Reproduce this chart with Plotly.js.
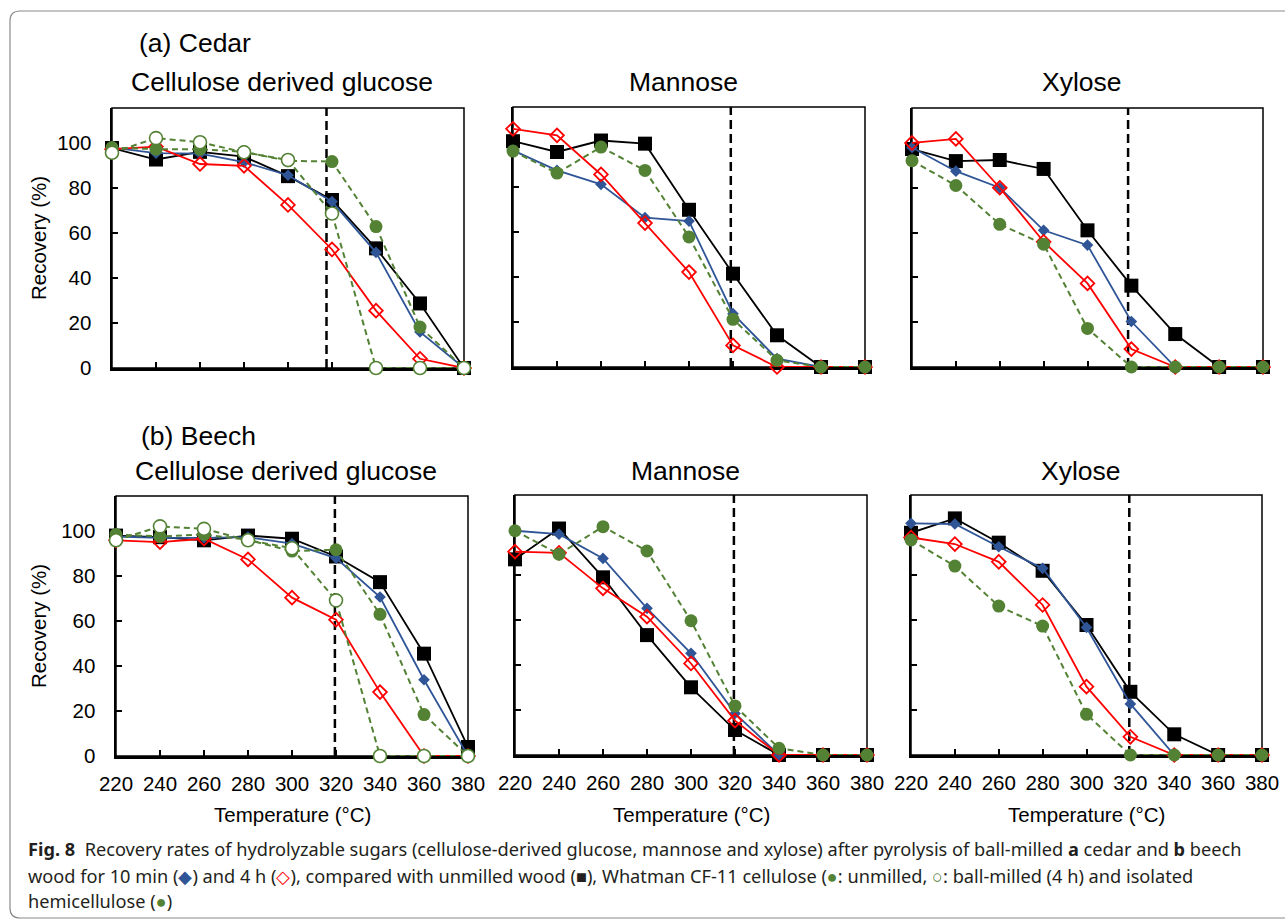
<!DOCTYPE html>
<html>
<head>
<meta charset="utf-8">
<script src="https://cdn.plot.ly/plotly-3.0.1.min.js"></script>
<style>
  html, body { margin: 0; padding: 0; background: #fff; }
  #chart { width: 1285px; height: 921px; }
</style>
</head>
<body>
<div id="chart"></div>
<script>
// ---------------- DATA ----------------
const temps = [220, 240, 260, 280, 300, 320, 340, 360, 380];
const tickTemps = [220, 240, 260, 280, 300, 320, 340, 360, 380];
const yTicks = [0, 20, 40, 60, 80, 100];

const seriesNames = ["Unmilled wood", "Ball-milled 10 min", "Ball-milled 4 h", "Whatman CF-11 (unmilled)", "Whatman CF-11 (ball-milled 4 h)", "Isolated hemicellulose"];

// (a) Cedar — cellulose derived glucose
const cedarGlcWood   = [97.8, 92.7, 96.1, 94.0, 85.3, 74.7, 53.2, 28.7, 0];
const cedarGlc10min  = [98.0, 95.5, 95.3, 91.5, 85.7, 74.0, 51.4, 16.0, 0];
const cedarGlc4h     = [97.3, 98.4, 90.7, 89.9, 72.5, 52.7, 25.5, 4.1, 0];
const cedarGlcCF11   = [98.0, 97.3, 97.3, 96.1, 92.1, 91.8, 62.9, 18.2, 0];
const cedarGlcCF11BM = [95.7, 102.2, 100.4, 95.9, 92.5, 68.7, 0, 0, 0];
// (a) Cedar — mannose
const cedarManWood   = [100.4, 95.6, 100.7, 99.3, 69.9, 41.5, 14.1, 0, 0];
const cedarMan10min  = [96.3, 87.4, 81.2, 66.4, 64.9, 23.7, 3.7, 0, 0];
const cedarMan4h     = [105.9, 103.0, 85.6, 64.0, 42.2, 9.6, 0, 0, 0];
const cedarManHemi   = [96.0, 86.2, 97.8, 87.4, 57.8, 21.2, 3.0, 0, 0];
// (a) Cedar — xylose
const cedarXylWood   = [97.3, 91.9, 92.4, 88.4, 61.0, 36.3, 14.7, 0, 0];
const cedarXyl10min  = [98.0, 87.4, 80.0, 61.0, 54.4, 20.3, 0, 0, 0];
const cedarXyl4h     = [100.0, 101.8, 80.0, 55.9, 37.3, 8.0, 0, 0, 0];
const cedarXylHemi   = [92.1, 81.0, 63.7, 54.8, 17.2, 0, 0, 0, 0];
// (b) Beech — cellulose derived glucose
const beechGlcWood   = [98.0, 97.3, 95.9, 98.0, 96.6, 88.7, 77.3, 45.5, 4.0];
const beechGlc10min  = [97.6, 97.0, 97.0, 97.3, 94.4, 88.0, 70.7, 33.9, 0];
const beechGlc4h     = [95.9, 95.1, 96.6, 87.4, 70.4, 60.6, 28.4, 0, 0];
const beechGlcCF11   = [98.5, 97.6, 98.5, 96.1, 91.1, 91.7, 63.0, 18.4, 0];
const beechGlcCF11BM = [95.9, 102.1, 101.0, 95.9, 92.4, 69.2, 0, 0, 0];
// (b) Beech — mannose
const beechManWood   = [87.0, 100.7, 79.0, 53.3, 30.1, 11.1, 0, 0, 0];
const beechMan10min  = [99.7, 98.2, 87.4, 65.2, 45.2, 18.5, 0, 0, 0];
const beechMan4h     = [90.4, 89.9, 74.1, 61.5, 40.7, 15.3, 0, 0, 0];
const beechManHemi   = [99.7, 89.3, 101.5, 90.7, 59.7, 21.8, 3.0, 0, 0];
// (b) Beech — xylose
const beechXylWood   = [98.8, 105.2, 94.4, 81.9, 57.8, 28.1, 9.2, 0, 0];
const beechXyl10min  = [103.0, 102.7, 92.6, 83.0, 56.7, 22.7, 0, 0, 0];
const beechXyl4h     = [96.7, 93.8, 85.9, 66.7, 30.4, 8.1, 0, 0, 0];
const beechXylHemi   = [95.6, 84.0, 66.2, 57.3, 18.1, 0, 0, 0, 0];

// dashed reference line temperature per panel
const refLineTemps = [317.5, 319, 318.5, 319.5, 319.5, 319.5];

const panelTitles = ["Cellulose derived glucose", "Mannose", "Xylose", "Cellulose derived glucose", "Mannose", "Xylose"];
const woodLabels = ["(a) Cedar", "(b) Beech"];
const yTitle = "Recovery (%)";
const xTitle = "Temperature (°C)";

// ---------------- STYLES ----------------
const W = 1285, H = 921;
const FONT = "Liberation Sans, Arial, sans-serif";
const C_BLACK = "#000000", C_BLUE = "#2F5597", C_RED = "#FF0000", C_GREEN = "#548235";

const styles = {
  wood:   {mode: "lines+markers", line: {color: C_BLACK, width: 1.8}, marker: {symbol: "square", size: 14, color: C_BLACK}},
  m10:    {mode: "lines+markers", line: {color: C_BLUE, width: 1.8}, marker: {symbol: "diamond", size: 9, color: C_BLUE}},
  h4:     {mode: "lines+markers", line: {color: C_RED, width: 1.8}, marker: {symbol: "diamond-open", size: 10.5, color: C_RED, line: {width: 1.8, color: C_RED}}},
  cf11:   {mode: "lines+markers", line: {color: C_GREEN, width: 2, dash: "6px,4px"}, marker: {symbol: "circle", size: 13, color: C_GREEN}},
  cf11bm: {mode: "lines+markers", line: {color: C_GREEN, width: 2, dash: "6px,4px"}, marker: {symbol: "circle", size: 13, color: "#ffffff", line: {width: 1.6, color: C_GREEN}}},
  hemi:   {mode: "lines+markers", line: {color: C_GREEN, width: 2, dash: "6px,4px"}, marker: {symbol: "circle", size: 13, color: C_GREEN}}
};

// pixel boxes [left, right, top, bottom]
const boxes = [
  [112, 464, 108, 368],
  [513, 865, 107, 367],
  [912, 1263, 108, 367],
  [116, 468, 496, 756],
  [515, 867, 495, 755],
  [911, 1262, 495, 755]
];

const panels = [
  [["wood", cedarGlcWood], ["m10", cedarGlc10min], ["h4", cedarGlc4h], ["cf11", cedarGlcCF11], ["cf11bm", cedarGlcCF11BM]],
  [["wood", cedarManWood], ["m10", cedarMan10min], ["h4", cedarMan4h], ["hemi", cedarManHemi]],
  [["wood", cedarXylWood], ["m10", cedarXyl10min], ["h4", cedarXyl4h], ["hemi", cedarXylHemi]],
  [["wood", beechGlcWood], ["m10", beechGlc10min], ["h4", beechGlc4h], ["cf11", beechGlcCF11], ["cf11bm", beechGlcCF11BM]],
  [["wood", beechManWood], ["m10", beechMan10min], ["h4", beechMan4h], ["hemi", beechManHemi]],
  [["wood", beechXylWood], ["m10", beechXyl10min], ["h4", beechXyl4h], ["hemi", beechXylHemi]]
];
const nameOf = {wood: seriesNames[0], m10: seriesNames[1], h4: seriesNames[2], cf11: seriesNames[3], cf11bm: seriesNames[4], hemi: seriesNames[5]};

const px = v => v / W;
const py = v => 1 - v / H;

const traces = [];
const layout = {
  width: W, height: H,
  margin: {l: 0, r: 0, t: 0, b: 0},
  paper_bgcolor: "#ffffff", plot_bgcolor: "rgba(0,0,0,0)",
  showlegend: false,
  font: {family: FONT, color: "#000", size: 20},
  shapes: [], annotations: []
};

panels.forEach((series, i) => {
  const k = i + 1;
  const xa = "x" + (k === 1 ? "" : k), ya = "y" + (k === 1 ? "" : k);
  const xkey = "xaxis" + (k === 1 ? "" : k), ykey = "yaxis" + (k === 1 ? "" : k);
  const [l, r, t, b] = boxes[i];
  const bottomRow = i >= 3, firstCol = (i % 3) === 0;

  series.forEach(([key, vals]) => {
    traces.push(Object.assign({
      type: "scatter", x: temps, y: vals, xaxis: xa, yaxis: ya,
      name: nameOf[key], cliponaxis: false, hoverinfo: "x+y+name"
    }, JSON.parse(JSON.stringify(styles[key]))));
  });

  layout[xkey] = {
    domain: [px(l), px(r)], anchor: ya, range: [220, 380],
    tickmode: "array", tickvals: tickTemps, ticktext: tickTemps.map(String),
    showticklabels: bottomRow, ticks: "inside", ticklen: 6, tickwidth: 2, tickcolor: "#000",
    ticklabelstandoff: 8,
    showline: true, linecolor: "#000", linewidth: 2.5, mirror: false,
    showgrid: false, zeroline: false, layer: "below traces",
    tickfont: {family: FONT, size: 20.5, color: "#000"}, fixedrange: true
  };
  layout[ykey] = {
    domain: [py(b), py(t)], anchor: xa, range: [0, 115.6],
    tickmode: "array", tickvals: yTicks, ticktext: yTicks.map(String),
    showticklabels: firstCol, ticks: "inside", ticklen: 6, tickwidth: 2, tickcolor: "#000",
    ticklabelstandoff: 14,
    showline: true, linecolor: "#000", linewidth: 2.5, mirror: false,
    showgrid: false, zeroline: false, layer: "below traces",
    tickfont: {family: FONT, size: 20.5, color: "#000"}, fixedrange: true
  };

  // thin box outline
  layout.shapes.push({type: "rect", xref: xa + " domain", yref: ya + " domain", x0: 0, x1: 1, y0: 0, y1: 1,
    line: {color: "#000", width: 1.5}, layer: "below"});
  // dashed reference line
  layout.shapes.push({type: "line", xref: xa, yref: ya + " domain", x0: refLineTemps[i], x1: refLineTemps[i], y0: 0, y1: 1,
    line: {color: "#000", width: 2.5, dash: "9px,5px"}, layer: "below"});

  // panel title
  const titleY = bottomRow ? 471 : 82;
  layout.annotations.push({text: panelTitles[i], xref: "paper", yref: "paper", x: px((l + r) / 2 - 6), y: py(titleY),
    xanchor: "center", yanchor: "middle", showarrow: false, font: {family: FONT, size: 26.5, color: "#000"}});

  if (firstCol) {
    layout.annotations.push({text: yTitle, xref: "paper", yref: "paper", x: px(38), y: py((t + b) / 2),
      xanchor: "center", yanchor: "middle", textangle: -90, showarrow: false, font: {family: FONT, size: 20.5, color: "#000"}});
  }
  if (bottomRow) {
    layout.annotations.push({text: xTitle, xref: "paper", yref: "paper", x: px((l + r) / 2), y: py(814),
      xanchor: "center", yanchor: "middle", showarrow: false, font: {family: FONT, size: 20.5, color: "#000"}});
  }
});

// wood labels
layout.annotations.push({text: woodLabels[0], xref: "paper", yref: "paper", x: px(137), y: py(43), xanchor: "left", yanchor: "middle",
  showarrow: false, font: {family: FONT, size: 26.5, color: "#000"}});
layout.annotations.push({text: woodLabels[1], xref: "paper", yref: "paper", x: px(139), y: py(436), xanchor: "left", yanchor: "middle",
  showarrow: false, font: {family: FONT, size: 26.5, color: "#000"}});

// caption
const CAP_FONT = "Noto Sans, Open Sans, sans-serif";
const g = s => '<span style="color:' + C_GREEN + '">' + s + '</span>';
const captionLines = [
  '<b>Fig. 8</b>  Recovery rates of hydrolyzable sugars (cellulose-derived glucose, mannose and xylose) after pyrolysis of ball-milled <b>a</b> cedar and <b>b</b> beech',
  'wood for 10 min (<span style="color:' + C_BLUE + '">◆</span>) and 4 h (<span style="color:' + C_RED + '">◇</span>), compared with unmilled wood (■), Whatman CF-11 cellulose (' + g('●') + ': unmilled, ' + g('○') + ': ball-milled (4 h) and isolated',
  'hemicellulose (' + g('●') + ')'
];
const capY = [849, 876, 901];
captionLines.forEach((txt, j) => {
  layout.annotations.push({text: txt, xref: "paper", yref: "paper", x: px(26), y: py(capY[j]), xanchor: "left", yanchor: "middle",
    showarrow: false, font: {family: CAP_FONT, size: 18.2, color: "#231f20"}});
});

// rounded outer frame
(function () {
  const x0 = 10, y0 = 11, x1 = 1300, y1 = 918, rr = 10;
  const P = (x, y) => px(x) + "," + py(y);
  const path = "M" + P(x0, y0 + rr) + " Q" + P(x0, y0) + " " + P(x0 + rr, y0) +
    " L" + P(x1 - rr, y0) + " Q" + P(x1, y0) + " " + P(x1, y0 + rr) +
    " L" + P(x1, y1 - rr) + " Q" + P(x1, y1) + " " + P(x1 - rr, y1) +
    " L" + P(x0 + rr, y1) + " Q" + P(x0, y1) + " " + P(x0, y1 - rr) + " Z";
  layout.shapes.push({type: "path", xref: "paper", yref: "paper", path: path, line: {color: "#8a8a8a", width: 1.2}, layer: "below"});
})();

Plotly.newPlot("chart", traces, layout, {displayModeBar: false, staticPlot: true});
</script>
</body>
</html>
